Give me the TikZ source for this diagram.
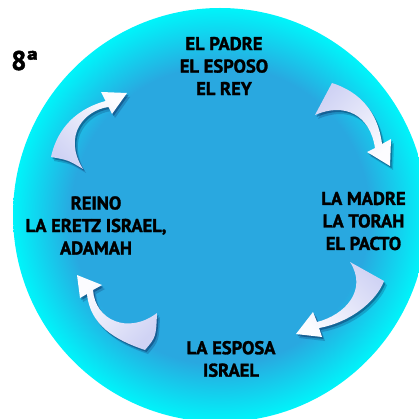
\documentclass[tikz,border=0pt]{standalone}
\usepackage{fontspec}
\setmainfont{PT Sans}[BoldFeatures={FakeBold=1.6}]
\usepackage{tikz}
\usetikzlibrary{calc}

\definecolor{discoazul}{RGB}{41,168,224}
\definecolor{discocian}{RGB}{0,244,250}
\definecolor{flechalila}{RGB}{208,211,244}
\definecolor{flechablanca}{RGB}{252,252,255}

\pgfdeclareradialshading{disco}{\pgfpoint{0bp}{0bp}}{%
  color(0bp)=(discoazul); color(18bp)=(discoazul);
  color(25bp)=(discocian); color(50bp)=(discocian)}

\tikzset{etiqueta/.style={align=center, inner sep=0pt, font=\bfseries\fontsize{18.5}{22.5}\selectfont}}
\tikzset{flecha/.style={top color=flechalila, bottom color=flechablanca}}
\tikzset{sombra/.style={fill=black!80!blue, opacity=.3}}

\newcommand{\flecha}[2]{%
  \fill[sombra, shift={(1.5,2)}] #2;
  \fill[sombra, shift={(3,4)}, opacity=.18] #2;
  \shade[flecha, shading angle=#1] #2;}

\begin{document}
\begin{tikzpicture}[x=1pt,y=-1pt]
  \useasboundingbox (0,0) rectangle (418,419);
  \fill[white] (0,0) rectangle (418,419);
  \shade[shading=disco] (220,215) circle (207pt);
  \foreach \nombre/\x/\y/\lab in {
    padre/224/66/{EL PADRE\\EL ESPOSO\\EL REY},
    madre/363.5/221/{LA MADRE\\LA TORAH\\EL PACTO},
    esposa/231/359/{LA ESPOSA\\ISRAEL},
    reino/96/225.5/{REINO\\LA ERETZ ISRAEL,\\ADAMAH}%
  } {
    \node[etiqueta] (\nombre) at (\x, \y) {\lab};
  }
  \node[font=\bfseries\fontsize{27}{27}\selectfont, anchor=base west, inner sep=0pt] (numero) at (11,70) {8ª};
  % flechas
  \flecha{45}{(332,83) .. controls (360,92) and (378,112) .. (382,144) -- (391,139) -- (390,166) -- (367,152) -- (375,148) .. controls (370,115) and (345,102) .. (315,115) -- cycle}
  \flecha{-45}{(350,262) -- (384,281) .. controls (377,300) and (352,322) .. (319,328) -- (322,337) -- (296,334) -- (313,312) -- (317,322) .. controls (345,315) and (368,290) .. (350,262) -- cycle}
  \flecha{-135}{(157,313) .. controls (156,337) .. (145,350) .. controls (115,340) and (90,325) .. (87,294) -- (80,298) -- (77,275) -- (102,285) -- (93,290) .. controls (95,320) and (128,335) .. (157,313) -- cycle}
  \flecha{135}{(51,157) .. controls (58,125) and (80,108) .. (105.5,101) -- (101,92) -- (127,93) -- (112,114) -- (108.5,107) .. controls (85,110) and (62,135) .. (83,169) .. controls (68,160) .. (51,157) -- cycle}
\end{tikzpicture}
\end{document}
